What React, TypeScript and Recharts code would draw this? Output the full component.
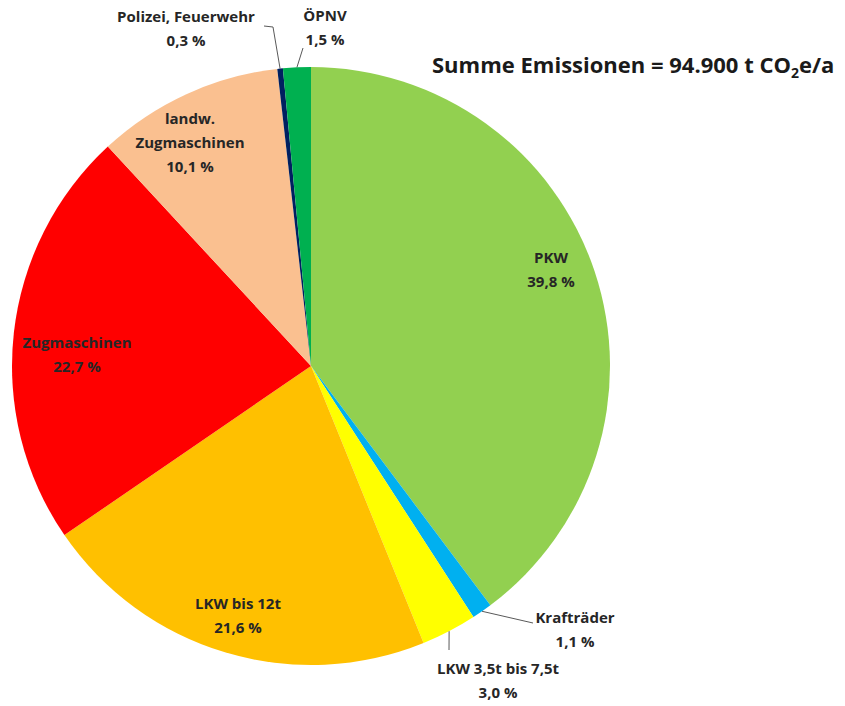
import { Cell, Pie, PieChart } from 'recharts'

const categories = [
  'PKW',
  'Krafträder',
  'LKW 3,5t bis 7,5t',
  'LKW bis 12t',
  'Zugmaschinen',
  'landw. Zugmaschinen',
  'Polizei, Feuerwehr',
  'ÖPNV',
]
const shares = [39.8, 1.1, 3.0, 21.6, 22.7, 10.1, 0.3, 1.5]
const colors = ['#92d050', '#00b0f0', '#ffff00', '#ffc000', '#ff0000', '#fac090', '#002060', '#00b050']

const data = categories.map((name, i) => ({ name, value: shares[i] }))

const CX = 311
const CY = 366
const R = 299

// label text lines placed relative to chart centre, optional leader line
type LabelPos = {
  lines: string[]
  x: number
  y: number
  leader?: [number, number][]
}
const labelPos: Record<string, LabelPos> = {
  PKW: { lines: ['PKW'], x: 240, y: -103 },
  'Krafträder': { lines: ['Krafträder'], x: 264, y: 257, leader: [[222, 257]] },
  'LKW 3,5t bis 7,5t': { lines: ['LKW 3,5t bis 7,5t'], x: 187, y: 308, leader: [[138, 284]] },
  'LKW bis 12t': { lines: ['LKW bis 12t'], x: -73, y: 243 },
  Zugmaschinen: { lines: ['Zugmaschinen'], x: -234, y: -18 },
  'landw. Zugmaschinen': { lines: ['landw.', 'Zugmaschinen'], x: -121, y: -242 },
  'Polizei, Feuerwehr': { lines: ['Polizei, Feuerwehr'], x: -125, y: -344, leader: [[-38, -339], [-47, -340]] },
  'ÖPNV': { lines: ['ÖPNV'], x: 14, y: -345, leader: [[-8, -318]] },
}

const fmt = (v: number) => v.toFixed(1).replace('.', ',') + ' %'

const FONT = '"Open Sans", Lato, sans-serif'

function renderLabel(props: any) {
  const { midAngle, name, value } = props
  const pos = labelPos[name]
  if (!pos) return null
  const lines = [...pos.lines, fmt(value)]
  const tx = CX + pos.x
  const ty = CY + pos.y
  const rad = (-midAngle * Math.PI) / 180
  const sx = CX + R * Math.cos(rad)
  const sy = CY + R * Math.sin(rad)
  let pts = ''
  if (pos.leader) {
    const p = [[sx, sy], ...pos.leader.map(([x, y]) => [CX + x, CY + y])]
    pts = p.map((q) => q.join(',')).join(' ')
  }
  return (
    <g key={name}>
      {pos.leader && <polyline points={pts} fill="none" stroke="#595959" strokeWidth={1} />}
      <text
        x={tx}
        y={ty}
        textAnchor="middle"
        fontFamily={FONT}
        fontWeight={700}
        fontSize={15}
        fill="#262626"
      >
        {lines.map((l, i) => (
          <tspan key={i} x={tx} dy={i === 0 ? 0 : 24}>
            {l}
          </tspan>
        ))}
      </text>
    </g>
  )
}

export default function App() {
  return (
    <div style={{ position: 'absolute', left: 0, top: 0, width: 845, height: 706, background: '#fff' }}>
      <PieChart width={845} height={706} margin={{ top: 0, right: 0, bottom: 0, left: 0 }}>
        <Pie
          data={data}
          dataKey="value"
          nameKey="name"
          cx={CX}
          cy={CY}
          outerRadius={R}
          startAngle={90}
          endAngle={-270}
          stroke="none"
          label={renderLabel}
          labelLine={false}
          isAnimationActive={false}
        >
          {data.map((d, i) => (
            <Cell key={d.name} fill={colors[i]} />
          ))}
        </Pie>
      </PieChart>
      <div
        style={{
          position: 'absolute',
          left: 432,
          top: 48,
          fontFamily: FONT,
          fontWeight: 700,
          fontSize: 22,
          color: '#1a1a1a',
          whiteSpace: 'nowrap',
          lineHeight: '32px',
        }}
      >
        Summe Emissionen = 94.900 t CO<sub style={{ fontSize: 14 }}>2</sub>e/a
      </div>
    </div>
  )
}
